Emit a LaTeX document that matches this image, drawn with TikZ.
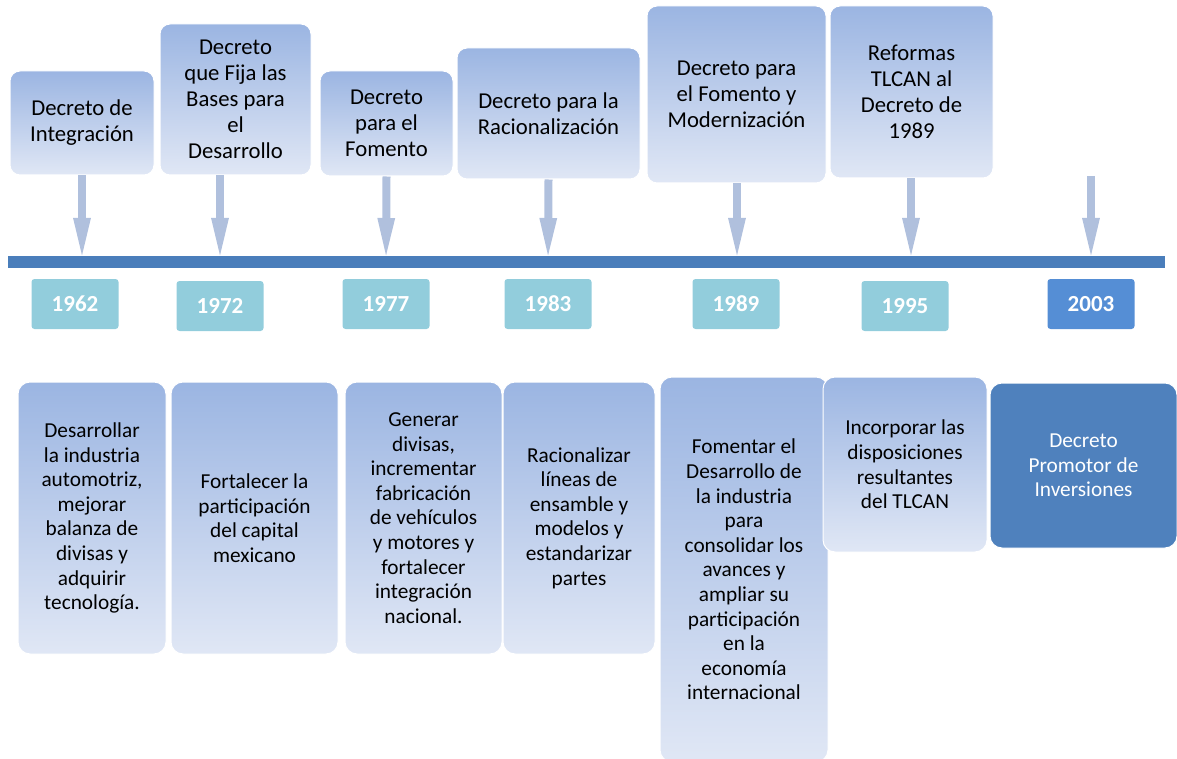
\documentclass[tikz,border=0pt]{standalone}
\usepackage{fontspec}
\setmainfont{Carlito}
\usetikzlibrary{arrows.meta}

\definecolor{boxtop}{RGB}{155,181,226}
\definecolor{boxbot}{RGB}{224,231,245}
\definecolor{pinblue}{RGB}{176,192,221}
\definecolor{barblue}{RGB}{74,126,187}
\definecolor{yearteal}{RGB}{146,205,220}
\definecolor{yeardark}{RGB}{85,142,213}
\definecolor{goaldark}{RGB}{79,129,189}

\begin{document}
\begin{tikzpicture}[x=1pt,y=-1pt,
    decbox/.style={rounded corners=10pt,top color=boxtop,bottom color=boxbot,draw=white,line width=1pt,
      align=center,inner sep=0pt,font=\fontsize{22.7}{26}\selectfont},
    goalbox/.style={rounded corners=12pt,top color=boxtop,bottom color=boxbot,draw=white,line width=1pt,
      align=center,inner sep=0pt,font=\fontsize{21.3}{24.6}\selectfont},
    yearbox/.style={rounded corners=3pt,fill=yearteal,text=white,minimum width=87,minimum height=50,
      inner sep=0pt,font=\bfseries\fontsize{23}{26}\selectfont},
    pin/.style={pinblue,line width=8pt,-{Triangle[width=15pt,length=44pt]}}]
  \useasboundingbox (0,0) rectangle (1177,759);

  \node[decbox,minimum width=144,minimum height=104] (d1962) at (82,123) {Decreto de\\Integración};
  \node[decbox,minimum width=151,minimum height=151] (d1972) at (235.5,99.5) {Decreto\\que Fija las\\Bases para\\el\\Desarrollo};
  \node[decbox,minimum width=133,minimum height=105] (d1977) at (386.5,123.5) {Decreto\\para el\\Fomento};
  \node[decbox,minimum width=183,minimum height=131] (d1983) at (548.5,113.5) {Decreto para la\\Racionalización};
  \node[decbox,minimum width=179,minimum height=177] (d1989) at (736.5,94.5) {Decreto para\\el Fomento y\\Modernización};
  \node[decbox,minimum width=163,minimum height=172] (d1995) at (911.5,92) {Reformas\\TLCAN al\\Decreto de\\1989};

  \coordinate (a1962) at (82,262);
  \coordinate (a1972) at (220,262);
  \coordinate (a1977) at (386,262);
  \coordinate (a1983) at (548,262);
  \coordinate (a1989) at (737,262);
  \coordinate (a1995) at (911,262);
  \coordinate (a2003) at (1091,262);
  \coordinate (s2003) at (1091,176);

  \draw[pin] (d1962.south) -- (a1962);
  \draw[pin] (d1972.south -| a1972) -- (a1972);
  \draw[pin] (d1977.south) -- (a1977);
  \draw[pin] (d1983.south) -- (a1983);
  \draw[pin] (d1989.south -| a1989) -- (a1989);
  \draw[pin] (d1995.south -| a1995) -- (a1995);
  \draw[pin] (s2003) -- (a2003);
  \fill[barblue] (8,256) rectangle (1165,268);

  \node[yearbox] (y1962) at (75,304) {1962};
  \node[yearbox] (y1972) at (220,306) {1972};
  \node[yearbox] (y1977) at (386,304) {1977};
  \node[yearbox] (y1983) at (548,304) {1983};
  \node[yearbox] (y1989) at (736,304) {1989};
  \node[yearbox] (y1995) at (905,306) {1995};
  \node[yearbox,fill=yeardark] (y2003) at (1091,304) {2003};

  \node[goalbox,minimum width=148,minimum height=272] (g1962) at (92,518) {Desarrollar\\la industria\\automotriz,\\mejorar\\balanza de\\divisas y\\adquirir\\tecnología.};
  \node[goalbox,minimum width=167,minimum height=272] (g1972) at (254.5,518) {Fortalecer la\\participación\\del capital\\mexicano};
  \node[goalbox,minimum width=157,minimum height=272] (g1977) at (423.5,518) {Generar\\divisas,\\incrementar\\fabricación\\de vehículos\\y motores y\\fortalecer\\integración\\nacional.};
  \node[goalbox,minimum width=152,minimum height=272] (g1983) at (579,518) {Racionalizar\\líneas de\\ensamble y\\modelos y\\estandarizar\\partes};
  \node[goalbox,minimum width=168,minimum height=385] (g1989) at (744,569.5) {Fomentar el\\Desarrollo de\\la industria\\para\\consolidar los\\avances y\\ampliar su\\participación\\en la\\economía\\internacional};
  \node[goalbox,minimum width=164,minimum height=175] (g1995) at (905,464.5) {Incorporar las\\disposiciones\\resultantes\\del TLCAN};
  \node[goalbox,top color=goaldark,bottom color=goaldark,text=white,minimum width=187,minimum height=165] (g2003) at (1083.5,465.5) {Decreto\\Promotor de\\Inversiones};
\end{tikzpicture}
\end{document}
